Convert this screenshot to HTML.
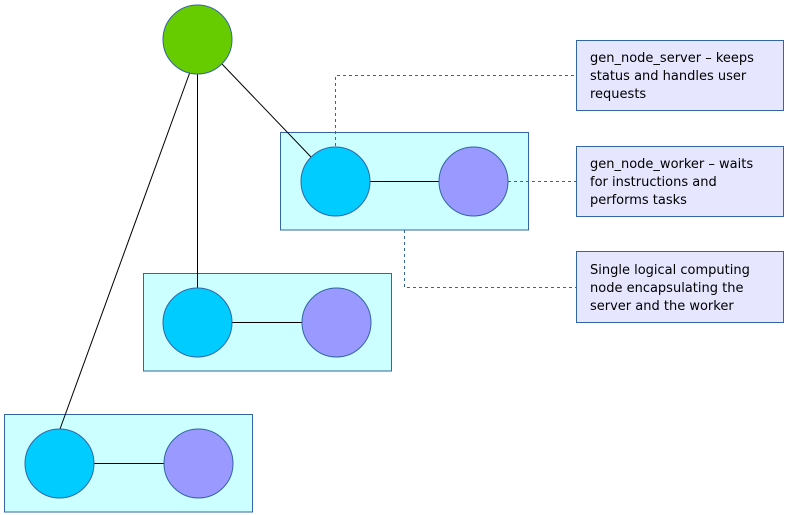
<!DOCTYPE html>
<html><head><style>body{margin:0;background:#fff}svg{display:block}</style></head><body>
<svg width="790" height="515" xmlns="http://www.w3.org/2000/svg" font-family="DejaVu Sans, sans-serif" font-size="13">
<g fill="#ccffff" stroke="#3465a4" stroke-width="1">
<rect x="280.5" y="132.5" width="248" height="97.5"/>
<rect x="143.5" y="273.5" width="248" height="97.5"/>
<rect x="4.5" y="414.5" width="248" height="97.5"/>
</g>
<g stroke="#000" stroke-width="1">
<line x1="222" y1="64" x2="311" y2="157"/>
<line x1="197.5" y1="73" x2="197.5" y2="288"/>
<line x1="190" y1="72" x2="60" y2="429"/>
<line x1="369" y1="181.5" x2="439" y2="181.5"/>
<line x1="231" y1="322.5" x2="302" y2="322.5"/>
<line x1="93" y1="463.5" x2="164" y2="463.5"/>
</g>
<g stroke="#3465a4" stroke-width="1" stroke-dasharray="3,3" fill="none">
<polyline points="335.5,146 335.5,75.5 576,75.5"/>
<polyline points="508,181.5 576,181.5"/>
<polyline points="404.5,230 404.5,287.5 576,287.5"/>
</g>
<g stroke="#3465a4" stroke-width="1">
<circle cx="197.5" cy="39.5" r="34.5" fill="#66cc00"/>
<circle cx="335.5" cy="181.5" r="34.5" fill="#00ccff"/>
<circle cx="473.5" cy="181.5" r="34.5" fill="#9999ff"/>
<circle cx="197.5" cy="322.5" r="34.5" fill="#00ccff"/>
<circle cx="336.5" cy="322.5" r="34.5" fill="#9999ff"/>
<circle cx="59.5" cy="463.5" r="34.5" fill="#00ccff"/>
<circle cx="198.5" cy="463.5" r="34.5" fill="#9999ff"/>
</g>
<g fill="#e6e6ff" stroke="#3465a4">
<rect x="576.5" y="40.5" width="207" height="70"/>
<rect x="576.5" y="146.5" width="207" height="70"/>
<rect x="576.5" y="251.5" width="207" height="71"/>
</g>
<g fill="#000">
<text x="590" y="62">gen_node_server – keeps</text>
<text x="590" y="80">status and handles user</text>
<text x="590" y="98">requests</text>
<text x="590" y="168">gen_node_worker – waits</text>
<text x="590" y="186">for instructions and</text>
<text x="590" y="204">performs tasks</text>
<text x="590" y="274">Single logical computing</text>
<text x="590" y="292">node encapsulating the</text>
<text x="590" y="310">server and the worker</text>
</g>
</svg>
</body></html>
